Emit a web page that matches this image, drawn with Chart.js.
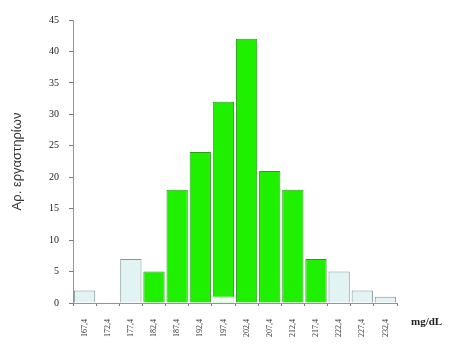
<!DOCTYPE html>
<html>
<head>
<meta charset="utf-8">
<script src="https://cdn.jsdelivr.net/npm/chart.js@4"></script>
<style>
  body { margin: 0; background: #fff; }
  #wrap { position: relative; width: 462px; height: 350px; }
  #unit { position: absolute; left: 411px; top: 315px; font: bold 11px "Liberation Serif", serif; color: #222; }
</style>
</head>
<body>
<div id="wrap">
  <canvas id="histChart" width="462" height="350"></canvas>
  <div id="unit">mg/dL</div>
</div>
<script>
const binLabels = ['167,4', '172,4', '177,4', '182,4', '187,4', '192,4', '197,4', '202,4', '207,4', '212,4', '217,4', '222,4', '227,4', '232,4'];
const labCounts = [2, 0, 7, 5, 18, 24, 32, 42, 21, 18, 7, 5, 2, 1];
const inRange = [false, false, false, true, true, true, true, true, true, true, true, false, false, false];
const overlayCounts = [0, 0, 0, 0, 0, 0, 1, 0, 0, 0, 0, 0, 0, 0];

const green = '#1ff000';
const greenEdge = '#2a9a1a';
const pale = '#e1f4f3';
const paleEdge = '#7f9997';

const ctx = document.getElementById('histChart').getContext('2d');

new Chart(ctx, {
    type: 'bar',
    data: {
        labels: binLabels,
        datasets: [
            {
                data: overlayCounts,
                backgroundColor: '#f4f8f2',
                borderWidth: 0,
                grouped: false,
                order: 0,
                categoryPercentage: 0.9,
                barPercentage: 1
            },
            {
                data: labCounts,
                backgroundColor: inRange.map(f => f ? green : pale),
                borderColor: inRange.map(f => f ? greenEdge : paleEdge),
                borderWidth: 1,
                grouped: false,
                order: 1,
                categoryPercentage: 0.92,
                barPercentage: 1
            }
        ]
    },
    options: {
        responsive: false,
        animation: false,
        layout: { padding: { top: 20, right: 65, left: 0, bottom: 0 } },
        plugins: { legend: { display: false }, tooltip: { enabled: false } },
        scales: {
            x: {
                grid: { drawOnChartArea: false, tickLength: 3, color: '#6f7f7a' },
                border: { color: '#8a9a95' },
                ticks: {
                    minRotation: 90,
                    maxRotation: 90,
                    padding: 13,
                    color: '#333',
                    font: { family: 'Liberation Serif', size: 8 }
                },
                afterFit: s => { s.height = 47; }
            },
            y: {
                min: 0,
                max: 45,
                grid: { drawOnChartArea: false, tickLength: 4, color: '#6f7f7a' },
                border: { color: '#8a9a95' },
                ticks: {
                    stepSize: 5,
                    padding: 10,
                    color: '#222',
                    font: { family: 'Liberation Serif', size: 10 }
                },
                title: {
                    display: true,
                    text: 'Αρ. εργαστηρίων',
                    color: '#333',
                    padding: { top: 10, bottom: 0 },
                    font: { family: 'Liberation Sans', size: 13 }
                },
                afterFit: s => { s.width = 73; }
            }
        }
    }
});
</script>
</body>
</html>
